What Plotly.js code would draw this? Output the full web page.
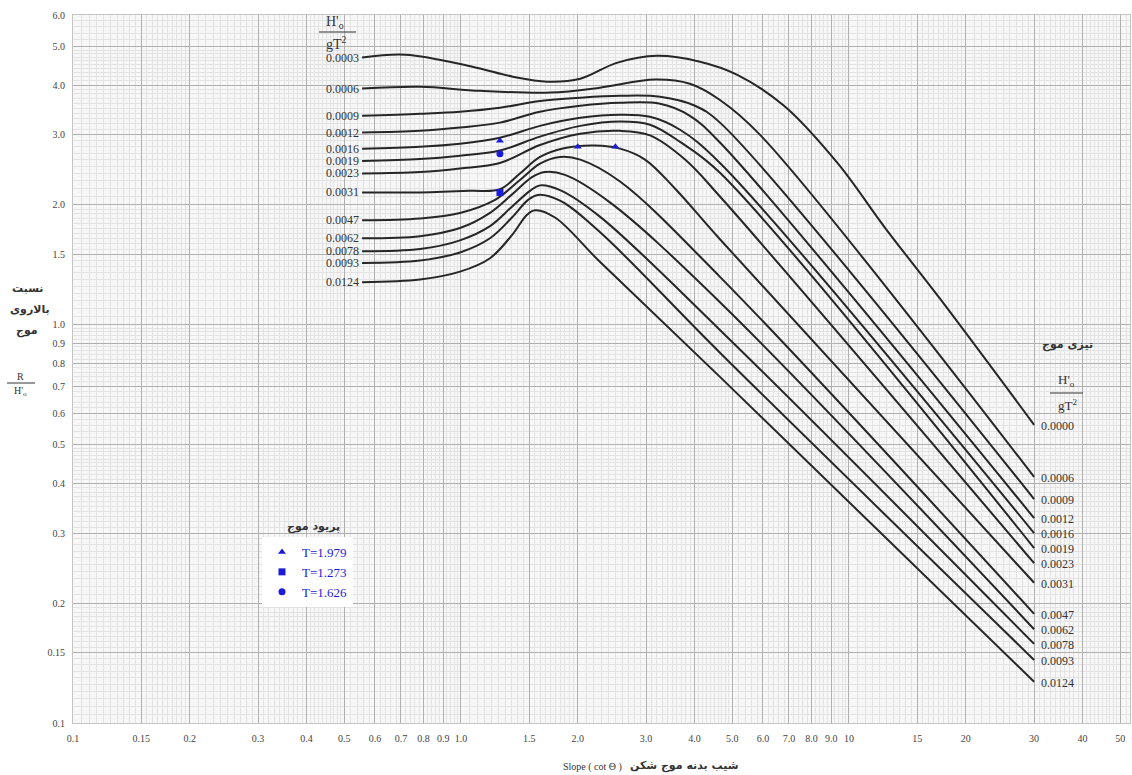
<!DOCTYPE html>
<html><head><meta charset="utf-8">
<script src="https://cdn.plot.ly/plotly-3.0.1.min.js"></script>
<style>html,body{margin:0;padding:0;background:#fff;}#chart{width:1132px;height:775px;}</style>
</head><body><div id="chart"></div>
<script>
// ---- data ----
const steepness = ["0.0003","0.0006","0.0009","0.0012","0.0016","0.0019","0.0023","0.0031","0.0047","0.0062","0.0078","0.0093","0.0124"];
const rightLabels = ["0.0000","0.0006","0.0009","0.0012","0.0016","0.0019","0.0023","0.0031","0.0047","0.0062","0.0078","0.0093","0.0124"];

const x_0003 = [0.556,0.72,1.07,1.36,1.67,2.03,2.52,3.20,4.13,5.14,6.80,9.37,12.4,17.2,30];
const y_0003 = [4.69,4.77,4.45,4.20,4.08,4.15,4.55,4.74,4.58,4.25,3.55,2.54,1.75,1.16,0.561];
const x_0006 = [0.556,0.784,1.12,1.70,2.28,3.16,3.89,4.65,5.90,30];
const y_0006 = [3.92,3.96,3.87,3.83,3.94,4.13,4.03,3.67,3.00,0.415];
const x_0009 = [0.556,0.784,0.994,1.26,1.598,2.03,2.57,3.26,4.01,4.65,30];
const y_0009 = [3.35,3.39,3.43,3.51,3.65,3.72,3.76,3.74,3.55,3.22,0.365];
const x_0012 = [0.556,0.784,0.994,1.26,1.598,2.03,2.57,3.26,3.89,4.65,30];
const y_0012 = [3.04,3.07,3.13,3.22,3.43,3.55,3.61,3.59,3.35,2.87,0.327];
const x_0016 = [0.556,0.784,0.994,1.26,1.598,2.03,2.57,3.07,3.67,4.65,30];
const y_0016 = [2.77,2.80,2.85,2.95,3.16,3.31,3.37,3.33,3.09,2.55,0.300];
const x_0019 = [0.556,0.784,0.994,1.26,1.598,2.03,2.57,3.07,3.67,4.65,30];
const y_0019 = [2.58,2.61,2.66,2.74,2.97,3.16,3.24,3.18,2.88,2.41,0.275];
const x_0023 = [0.556,0.784,0.994,1.26,1.598,2.03,2.57,3.07,3.78,4.65,30];
const y_0023 = [2.40,2.42,2.47,2.55,2.83,3.02,3.07,2.99,2.60,2.10,0.252];
const x_0031 = [0.556,0.784,1.055,1.26,1.419,1.598,1.854,2.21,2.57,2.98,3.56,4.65,30];
const y_0031 = [2.15,2.15,2.17,2.19,2.40,2.64,2.78,2.82,2.77,2.60,2.20,1.64,0.225];
const x_0047 = [0.556,0.784,0.994,1.224,1.419,1.598,1.80,2.03,2.57,4.65,30];
const y_0047 = [1.83,1.85,1.91,2.06,2.31,2.54,2.64,2.60,2.29,1.32,0.188];
const x_0062 = [0.556,0.784,0.994,1.188,1.378,1.524,1.646,1.854,2.42,4.65,30];
const y_0062 = [1.65,1.67,1.75,1.91,2.16,2.35,2.42,2.38,2.03,1.14,0.172];
const x_0078 = [0.556,0.784,0.994,1.188,1.353,1.506,1.598,1.80,2.28,4.65,30];
const y_0078 = [1.53,1.55,1.63,1.77,1.98,2.17,2.24,2.18,1.87,0.971,0.158];
const x_0093 = [0.556,0.784,0.994,1.188,1.353,1.489,1.579,1.80,2.28,4.65,30];
const y_0093 = [1.43,1.45,1.52,1.65,1.86,2.06,2.12,2.05,1.71,0.851,0.144];
const x_0124 = [0.556,0.784,0.994,1.188,1.353,1.48,1.552,1.747,2.28,4.65,30];
const y_0124 = [1.28,1.30,1.36,1.47,1.68,1.89,1.94,1.86,1.44,0.740,0.127];

const periodNames = ["T=1.979","T=1.273","T=1.626"];
const x_T1979 = [1.26,2.0,2.5];
const y_T1979 = [2.90,2.80,2.80];
const x_T1273 = [1.26];
const y_T1273 = [2.15];
const x_T1626 = [1.26];
const y_T1626 = [2.69];

const xTickVals = [0.1,0.15,0.2,0.3,0.4,0.5,0.6,0.7,0.8,0.9,1,1.5,2,3,4,5,6,7,8,9,10,15,20,30,40,50];
const xTickText = ["0.1","0.15","0.2","0.3","0.4","0.5","0.6","0.7","0.8","0.9","1.0","1.5","2.0","3.0","4.0","5.0","6.0","7.0","8.0","9.0","10","15","20","30","40","50"];
const yTickVals = [0.1,0.15,0.2,0.3,0.4,0.5,0.6,0.7,0.8,0.9,1,1.5,2,3,4,5,6];
const yTickText = ["0.1","0.15","0.2","0.3","0.4","0.5","0.6","0.7","0.8","0.9","1.0","1.5","2.0","3.0","4.0","5.0","6.0"];

// ---- build ----
const curvesX = [x_0003,x_0006,x_0009,x_0012,x_0016,x_0019,x_0023,x_0031,x_0047,x_0062,x_0078,x_0093,x_0124];
const curvesY = [y_0003,y_0006,y_0009,y_0012,y_0016,y_0019,y_0023,y_0031,y_0047,y_0062,y_0078,y_0093,y_0124];

const W=1132,H=775,ML=73,MR=2,MT=15,MB=52;
const PW=W-ML-MR, PH=H-MT-MB;
const XMAX=Math.log10(53), YMAX=Math.log10(6);
const PX = px => (px-ML)/PW;
const PY = py => (H-MB-py)/PH;
const LX = px => -1 + PX(px)*(XMAX+1);
const LY = py => -1 + PY(py)*(YMAX+1);

const serif = "Liberation Serif, Times New Roman, serif";
const arab = "DejaVu Sans, Noto Sans, sans-serif";
const ink = "#333333";
const blue = "#1c1cd6";

const traces = [];
curvesX.forEach((xs,i)=>{
  traces.push({x:xs,y:curvesY[i],type:'scatter',mode:'lines',name:steepness[i],showlegend:false,
    hoverinfo:'skip',line:{color:'#262626',width:2,shape:'spline',smoothing:1}});
});
traces.push({x:x_T1979,y:y_T1979,type:'scatter',mode:'markers',name:periodNames[0],
  marker:{symbol:'triangle-up',size:7,color:blue}});
traces.push({x:x_T1273,y:y_T1273,type:'scatter',mode:'markers',name:periodNames[1],
  marker:{symbol:'square',size:7,color:blue}});
traces.push({x:x_T1626,y:y_T1626,type:'scatter',mode:'markers',name:periodNames[2],
  marker:{symbol:'circle',size:7,color:blue}});

function minorVals(lo,hi){
  const v=[];
  for(let e=-2;e<=2;e++){
    const b=Math.pow(10,e);
    for(let k=20;k<40;k++) v.push(k/20*b);
    for(let k=20;k<50;k++) v.push(k/10*b);
    for(let k=25;k<50;k++) v.push(k*0.2*b);
  }
  return v.filter(a=>a>=lo&&a<=hi);
}

const annotations = [];
curvesX.forEach((xs,i)=>{
  annotations.push({x:Math.log10(xs[0]),y:Math.log10(curvesY[i][0]),xref:'x',yref:'y',text:steepness[i],
    showarrow:false,xanchor:'right',yanchor:'middle',xshift:-1,font:{family:serif,size:12,color:ink}});
  const n=xs.length-1;
  annotations.push({x:Math.log10(xs[n]),y:Math.log10(curvesY[i][n]),xref:'x',yref:'y',text:rightLabels[i],
    showarrow:false,xanchor:'left',yanchor:'middle',xshift:5,yshift:-1,font:{family:serif,size:12,color:ink}});
});
function A(px,py,text,font){annotations.push({x:PX(px),y:PY(py),xref:'paper',yref:'paper',text:text,showarrow:false,
  xanchor:'center',yanchor:'middle',font:font});}
A(335,22,"H'<sub>o</sub>",{family:serif,size:14,color:ink});
A(336,43,"gT<sup>2</sup>",{family:serif,size:14,color:ink});
A(1067,345,"<b>تیزی موج</b>",{family:arab,size:11,color:ink});
A(1066,381,"H'<sub>o</sub>",{family:serif,size:13,color:ink});
A(1067,405,"gT<sup>2</sup>",{family:serif,size:13,color:ink});
A(27,288,"<b>نسبت</b>",{family:arab,size:11,color:ink});
A(30,309,"<b>بالاروی</b>",{family:arab,size:11,color:ink});
A(27,331,"<b>موج</b>",{family:arab,size:11,color:ink});
A(20,376,"R",{family:serif,size:10,color:ink});
A(21,391,"H'<sub>o</sub>",{family:serif,size:10,color:ink});
A(592,767,"Slope ( cot Θ )",{family:serif,size:10,color:ink});
A(684,766,"<b>شیب بدنه موج شکن</b>",{family:arab,size:11,color:ink});
A(313,527,"<b>پریود موج</b>",{family:arab,size:11,color:ink});

const shapes = [
  {type:'rect',xref:'x',yref:'y',x0:LX(319),x1:LX(360),y0:LY(76),y1:LY(15.5),fillcolor:'#ffffff',line:{width:0},layer:'between'},
  {type:'rect',xref:'x',yref:'y',x0:LX(1040),x1:LX(1090),y0:LY(694),y1:LY(367),fillcolor:'#ffffff',line:{width:0},layer:'between'},
  {type:'rect',xref:'x',yref:'y',x0:LX(262),x1:LX(373),y0:LY(606),y1:LY(539),fillcolor:'#ffffff',line:{width:0},layer:'between'},
  {type:'line',xref:'paper',yref:'paper',x0:PX(319),x1:PX(356),y0:PY(32),y1:PY(32),line:{color:ink,width:1.2},layer:'above'},
  {type:'line',xref:'paper',yref:'paper',x0:PX(1050),x1:PX(1083),y0:PY(393),y1:PY(393),line:{color:ink,width:1.2},layer:'above'},
  {type:'line',xref:'paper',yref:'paper',x0:PX(7),x1:PX(35),y0:PY(383),y1:PY(383),line:{color:ink,width:1},layer:'above'}
];

const layout = {
  width:W,height:H,margin:{l:ML,r:MR,t:MT,b:MB},
  paper_bgcolor:'#ffffff',plot_bgcolor:'#f7f7f7',
  showlegend:true,
  legend:{x:PX(262),y:PY(537),xanchor:'left',yanchor:'top',bgcolor:'#ffffff',borderwidth:0,
    font:{family:serif,size:13,color:blue},itemsizing:'trace',tracegroupgap:0,itemwidth:30},
  xaxis:{type:'log',range:[-1,XMAX],tickmode:'array',tickvals:xTickVals,ticktext:xTickText,
    ticks:'',showgrid:true,gridcolor:'#b0b0b0',gridwidth:1,zeroline:false,
    showline:true,mirror:true,linecolor:'#c4c4c4',linewidth:1,
    tickfont:{family:serif,size:10,color:'#444'},ticklabelstandoff:6,
    minor:{tickmode:'array',tickvals:minorVals(0.1,53),showgrid:true,gridcolor:'#e3e3e3',gridwidth:1,ticks:''}},
  yaxis:{type:'log',range:[-1,YMAX],tickmode:'array',tickvals:yTickVals,ticktext:yTickText,
    ticks:'',showgrid:true,gridcolor:'#b0b0b0',gridwidth:1,zeroline:false,
    showline:true,mirror:true,linecolor:'#c4c4c4',linewidth:1,
    tickfont:{family:serif,size:10,color:'#444'},ticklabelstandoff:5,
    minor:{tickmode:'array',tickvals:minorVals(0.1,6),showgrid:true,gridcolor:'#e3e3e3',gridwidth:1,ticks:''}},
  annotations:annotations,shapes:shapes,hovermode:false
};
Plotly.newPlot('chart',traces,layout,{displayModeBar:false,staticPlot:true});
</script></body></html>
